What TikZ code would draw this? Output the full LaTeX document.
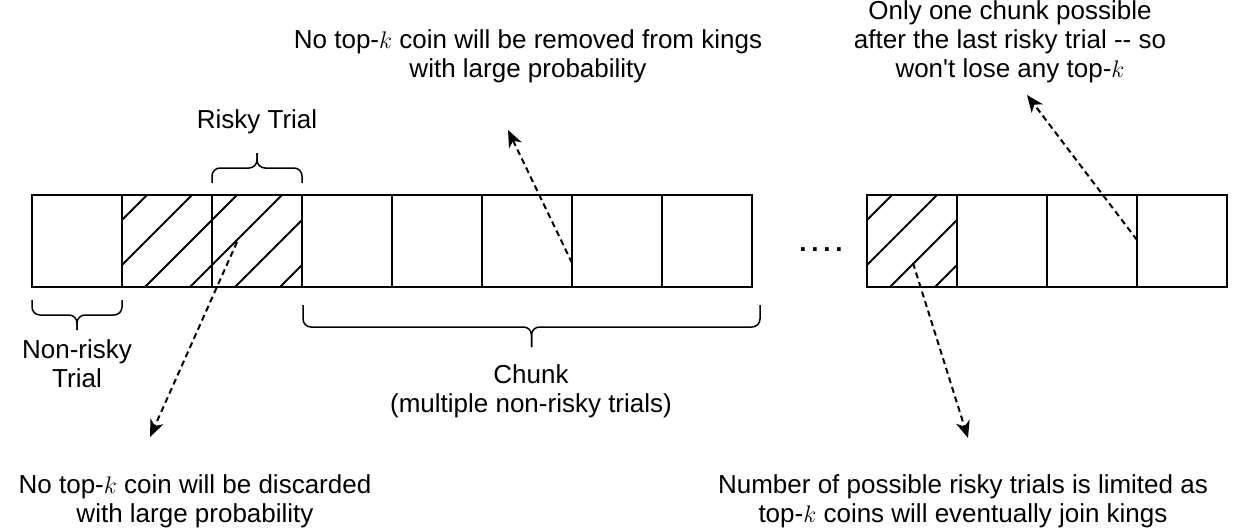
\documentclass[tikz,border=0pt]{standalone}
\usepackage{fontspec}
\setmainfont{Liberation Sans}
\usetikzlibrary{arrows.meta}
\usetikzlibrary{positioning}

% curly brace made of two rounded halves: x1, x2, y of ends, y of bar, y of tip
\newcommand{\trialbrace}[5]{%
  \draw[brace line] (#1,#3) |- ({(#1+#2)/2},#4) -- ({(#1+#2)/2},#5);
  \draw[brace line] (#2,#3) |- ({(#1+#2)/2},#4) -- ({(#1+#2)/2},#5);}

\begin{document}
\begin{tikzpicture}[x=0.5pt,y=-0.5pt,every node/.style={font=\fontsize{13}{14.5}\selectfont,align=center},
  trial/.style={draw,line width=1pt,minimum width=45pt,minimum height=46pt,inner sep=0pt,outer sep=0pt},
  hatch/.style={line width=1pt},
  brace line/.style={line width=0.75pt,rounded corners=4pt},
  hint/.style={line width=1pt,dash pattern=on 3pt off 2pt,-{Stealth[length=8.5pt,width=7pt,inset=2.5pt]}}]

	\useasboundingbox (0,0) rectangle (1238,531);

	% first row of trials
	\node[trial] (b1) at (77,241) {};
	\node[trial] (b2) [right=0pt of b1] {};
	\node[trial] (b3) [right=0pt of b2] {};
	\node[trial] (b4) [right=0pt of b3] {};
	\node[trial] (b5) [right=0pt of b4] {};
	\node[trial] (b6) [right=0pt of b5] {};
	\node[trial] (b7) [right=0pt of b6] {};
	\node[trial] (b8) [right=0pt of b7] {};

	% last trials
	\node[trial] (c1) at (912,241) {};
	\node[trial] (c2) [right=0pt of c1] {};
	\node[trial] (c3) [right=0pt of c2] {};
	\node[trial] (c4) [right=0pt of c3] {};

	% risky trials are hatched
	\begin{scope}
		\clip (b2.south west) rectangle (b3.north east);
		\foreach \xb in {10,55,...,280}
			\draw[hatch] (\xb,287) -- ++(92,-92);
	\end{scope}
	\begin{scope}
		\clip (c1.south west) rectangle (c1.north east);
		\foreach \xb in {800,845,890,935}
			\draw[hatch] (\xb,287) -- ++(92,-92);
	\end{scope}

	\node (dots) at (821,250) {\bfseries .\kern2.4pt.\kern2.4pt.\kern2.4pt.};

	% braces and their labels
	\trialbrace{212}{302}{183}{168}{153}
	\trialbrace{32}{122}{300}{315}{330}
	\trialbrace{303}{760}{305}{327}{347}

	\node (risky)    at (257,122) {Risky Trial};
	\node (nonrisky) at (77,364)  {Non-risky\\Trial};
	\node (chunk)    at (531,391) {Chunk\\(multiple non-risky trials)};

	% remarks
	\node (removed)   at (528,56)  {No top-$k$ coin will be removed from kings\\with large probability};
	\node (lastrisky) at (1010,42) {Only one chunk possible\\after the last risky trial -{}- so\\won\textquotesingle t lose any top-$k$};
	\node (discarded) at (195,501) {No top-$k$ coin will be discarded\\with large probability};
	\node (limited)   at (963,501) {Number of possible risky trials is limited as\\top-$k$ coins will eventually join kings};

	\coordinate (d0) at (237,242);
	\coordinate (d1) at (150,437);
	\coordinate (r0) at (572,263);
	\coordinate (r1) at (508,130);
	\coordinate (o0) at (1137,240);
	\coordinate (o1) at (1027,95);
	\coordinate (l0) at (913,263);
	\coordinate (l1) at (968,438);

	\draw[hint] (d0) -- (d1);
	\draw[hint] (r0) -- (r1);
	\draw[hint] (o0) -- (o1);
	\draw[hint] (l0) -- (l1);

\end{tikzpicture}
\end{document}
